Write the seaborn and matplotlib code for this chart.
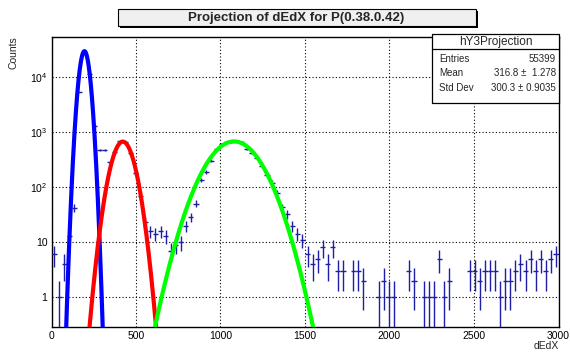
import numpy as np
import pandas as pd
import matplotlib
matplotlib.use("Agg")
import matplotlib.pyplot as plt
import seaborn as sns
from matplotlib.patches import Rectangle
from matplotlib.lines import Line2D
from matplotlib.ticker import FixedLocator, MultipleLocator, LogLocator, NullFormatter, FixedFormatter

# ---------------- data ----------------
bin_width = 30.0
bin_lo = np.arange(0, 3000, 30)
counts = [6, 1, 4, 13, 42, 5340, 27500, 11200, 1300, 470,
          470, 285, 427, 690, 660, 408, 177, 70, 23, 16,
          14, 16, 13, 7, 9, 10, 20, 29, 50, 135,
          190, 300, 490, 600, 650, 670, 680, 670, 500, 420,
          337, 237, 167, 121, 78, 43, 32, 20, 14, 11,
          6, 4, 5, 8, 4, 8, 3, 3, 0, 3,
          3, 2, 0, 0, 1, 2, 1, 1, 0, 0,
          3, 2, 0, 1, 1, 1, 5, 1, 2, 0,
          0, 0, 3, 3, 2, 3, 3, 3, 1, 2,
          2, 3, 4, 3, 5, 3, 5, 3, 5, 6]

fit_names = ["pion", "kaon", "proton"]
fit_amp = [29500, 670, 675]
fit_mean = [195, 422, 1080]
fit_sigma = [22.5, 50, 118.7]
fit_colors = ["#0000ff", "#ff0000", "#00ff00"]

xticks = [0, 500, 1000, 1500, 2000, 2500, 3000]
yticks = [1, 10, 100, 1000, 10000]
ytick_labels = ["1", "10", "$10^{2}$", "$10^{3}$", "$10^{4}$"]

title = "Projection of dEdX for P(0.38.0.42)"
stats_name = "hY3Projection"
stats_rows = [("Entries", "55399"), ("Mean", "316.8 \u00b1  1.278"), ("Std Dev", "300.3 \u00b1 0.9035")]

# ---------------- style ----------------
sns.set_style("white")
plt.rcParams["font.family"] = ["Liberation Sans", "DejaVu Sans"]
plt.rcParams["mathtext.default"] = "regular"

W, H = 570, 354
fig = plt.figure(figsize=(W / 100, H / 100), dpi=100)
ax_l, ax_r, ax_t, ax_b = 51.5, 558.5, 36.7, 326.7
ax = fig.add_axes([ax_l / W, 1 - ax_b / H, (ax_r - ax_l) / W, (ax_b - ax_t) / H])

# histogram with error bars
df = pd.DataFrame({"x": bin_lo + bin_width / 2, "n": counts})
dfp = df[df["n"] > 0]
n = dfp["n"].to_numpy(dtype=float)
err = np.sqrt(n)
lower = np.minimum(err, n - 1e-4)
ax.errorbar(dfp["x"], n, xerr=bin_width / 2, yerr=[lower, err], fmt="none",
            ecolor="#1e1ea8", elinewidth=1.0, capsize=0, zorder=3)

# fit curves
xs = np.linspace(0, 3000, 6001)
for name, a, m, s, c in zip(fit_names, fit_amp, fit_mean, fit_sigma, fit_colors):
    ys = a * np.exp(-0.5 * ((xs - m) / s) ** 2)
    keep = ys > 0.05
    cdf = pd.DataFrame({"x": xs[keep], "y": ys[keep]})
    sns.lineplot(data=cdf, x="x", y="y", color=c, lw=3.0, ax=ax, sort=False,
                 estimator=None, zorder=4)

ax.set_yscale("log")
ax.set_xlim(0, 3000)
ax.set_ylim(0.29, 54000)

ax.xaxis.set_major_locator(FixedLocator(xticks))
ax.xaxis.set_minor_locator(MultipleLocator(100))
ax.yaxis.set_major_locator(FixedLocator(yticks))
ax.yaxis.set_major_formatter(FixedFormatter(ytick_labels))
ax.yaxis.set_minor_locator(LogLocator(base=10, subs=np.arange(2, 10)))
ax.yaxis.set_minor_formatter(NullFormatter())
ax.set_xticklabels([str(t) for t in xticks])

ax.tick_params(which="both", direction="in", top=False, right=False,
               color="black", width=0.8, labelsize=7.5, labelcolor="black")
ax.tick_params(which="major", length=8, pad=3)
ax.tick_params(which="minor", length=4)
ax.grid(True, which="major", linestyle=(0, (1, 2)), color="black", lw=0.8)
for sp in ax.spines.values():
    sp.set_color("black")
    sp.set_linewidth(1.0)

ax.set_xlabel("dEdX", fontsize=7.5, loc="right", labelpad=0)
ax.set_ylabel("Counts", fontsize=7.5, loc="top", labelpad=8)

# title box with shadow
tl, tr, tt, tb = 117.5, 475.5, 9.0, 26.0
fig.patches.append(Rectangle(((tl + 2) / W, 1 - (tb + 2) / H), (tr - tl) / W, (tb - tt) / H,
                             transform=fig.transFigure, facecolor="black", edgecolor="none", zorder=1))
fig.patches.append(Rectangle((tl / W, 1 - tb / H), (tr - tl) / W, (tb - tt) / H,
                             transform=fig.transFigure, facecolor="#f0f0f0", edgecolor="black",
                             lw=0.8, zorder=2))
fig.text((tl + tr) / 2 / W, 1 - (tt + tb) / 2 / H, title, ha="center", va="center",
         fontsize=9.5, fontweight="bold", zorder=3)

# stats box
sl, sr, st, sb = 432.3, 558.5, 34.3, 102.7
hdr = 49.3
fig.patches.append(Rectangle((sl / W, 1 - sb / H), (sr - sl) / W, (sb - st) / H,
                             transform=fig.transFigure, facecolor="white", edgecolor="black",
                             lw=0.9, zorder=5))
fig.lines.append(Line2D([sl / W, sr / W], [1 - hdr / H, 1 - hdr / H], transform=fig.transFigure,
                        color="black", lw=0.9, zorder=6))
fig.text((sl + sr) / 2 / W, 1 - 42.5 / H, stats_name, ha="center", va="center", fontsize=8.5, zorder=7)
for i, (k, v) in enumerate(stats_rows):
    yy = 59.3 + 14.2 * i
    fig.text(439 / W, 1 - yy / H, k, ha="left", va="center", fontsize=7, zorder=7)
    fig.text(556 / W, 1 - yy / H, v, ha="right", va="center", fontsize=7, zorder=7)

fig.savefig("out.png", dpi=100, facecolor="white")
